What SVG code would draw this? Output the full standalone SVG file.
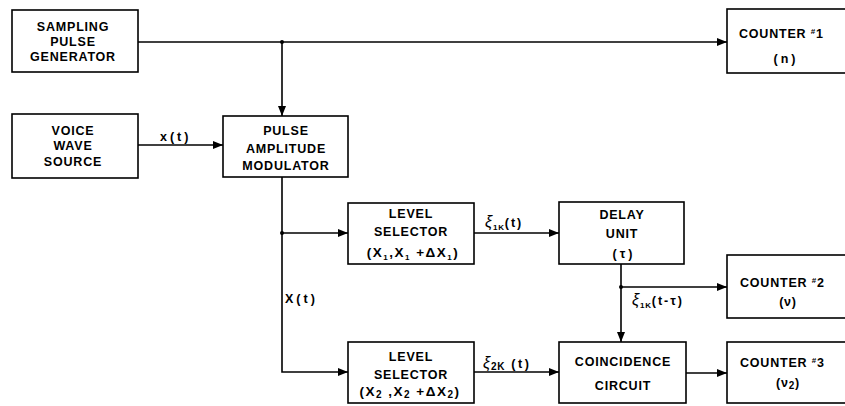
<svg xmlns="http://www.w3.org/2000/svg" width="845" height="406" viewBox="0 0 845 406">
<defs>
<marker id="arr" viewBox="0 0 10 8" refX="10" refY="4" markerWidth="10" markerHeight="8" markerUnits="userSpaceOnUse" orient="auto">
<path d="M0,0 L10,4 L0,8 z" fill="#000"/>
</marker>
<style>
.box{fill:#fff;stroke:#000;stroke-width:1.6}
.t{font-family:"Liberation Sans",Arial,sans-serif;font-weight:bold;font-size:12.5px;letter-spacing:0.8px;text-anchor:middle;fill:#000}
.l{font-family:"Liberation Sans",Arial,sans-serif;font-weight:bold;font-size:12.5px;letter-spacing:0.8px;fill:#000}
.w{letter-spacing:3px}
.r{font-size:13.5px;letter-spacing:1.5px}
.c{fill:none;stroke:#000;stroke-width:1.6}
.s{font-size:8px}
.s2{font-size:10px}
.x{font-size:16px;font-weight:normal;font-style:italic}
</style>
</defs>
<rect width="845" height="406" fill="#fff"/>

<g id="connectors">
<line class="c" x1="138" y1="42" x2="727" y2="42" marker-end="url(#arr)"/>
<line class="c" x1="282" y1="42" x2="282" y2="116" marker-end="url(#arr)"/>
<circle cx="282" cy="42" r="2"/>
<line class="c" x1="138" y1="145" x2="223" y2="145" marker-end="url(#arr)"/>
<polyline class="c" points="282,177 282,372 348,372" marker-end="url(#arr)"/>
<line class="c" x1="282" y1="233" x2="348" y2="233" marker-end="url(#arr)"/>
<circle cx="282" cy="233" r="2"/>
<line class="c" x1="474" y1="233" x2="559" y2="233" marker-end="url(#arr)"/>
<line class="c" x1="474" y1="372" x2="559" y2="372" marker-end="url(#arr)"/>
<line class="c" x1="621" y1="264" x2="621" y2="342" marker-end="url(#arr)"/>
<line class="c" x1="621" y1="287" x2="727" y2="287" marker-end="url(#arr)"/>
<circle cx="621" cy="287" r="2"/>
<line class="c" x1="686" y1="373" x2="727" y2="373" marker-end="url(#arr)"/>
<text class="l w" x="160" y="141">x(t)</text>
<text class="l w" x="285" y="303">X(t)</text>
<text class="l" x="485" y="227"><tspan class="x">ξ</tspan><tspan class="s" dy="3">1K</tspan><tspan dy="-3" style="letter-spacing:2px">(t)</tspan></text>
<text class="l" x="483" y="368"><tspan class="x">ξ</tspan><tspan class="s2" dy="2">2K</tspan><tspan dy="-2" style="letter-spacing:2.5px"> (t)</tspan></text>
<text class="l" x="632" y="305"><tspan class="x">ξ</tspan><tspan class="s" dy="3">1K</tspan><tspan dy="-3" style="letter-spacing:2px">(t-τ)</tspan></text>
</g>

<g id="sampling">
<rect class="box" x="12" y="10" width="126" height="62"/>
<text class="t" x="73" y="31">SAMPLING</text>
<text class="t" x="73" y="46">PULSE</text>
<text class="t" x="73" y="61">GENERATOR</text>
</g>

<g id="counter1">
<rect class="box" x="727" y="9" width="125" height="64"/>
<text class="l" x="739" y="38">COUNTER <tspan class="s" dy="-4">#</tspan><tspan dy="4">1</tspan></text>
<text class="t w" x="786" y="63">(n)</text>
</g>

<g id="voice">
<rect class="box" x="12" y="114" width="126" height="64"/>
<text class="t" x="73" y="135">VOICE</text>
<text class="t" x="73" y="150">WAVE</text>
<text class="t" x="73" y="166">SOURCE</text>
</g>

<g id="pam">
<rect class="box" x="223" y="116" width="125" height="61"/>
<text class="t" x="286" y="135">PULSE</text>
<text class="t" x="286" y="153">AMPLITUDE</text>
<text class="t" x="286" y="170">MODULATOR</text>
</g>

<g id="level1">
<rect class="box" x="348" y="203" width="126" height="61"/>
<text class="t" x="411" y="218">LEVEL</text>
<text class="t" x="411" y="236">SELECTOR</text>
<text class="t r" x="413" y="257">(X<tspan class="s" dy="3">1</tspan><tspan dy="-3">,X</tspan><tspan class="s" dy="3">1</tspan><tspan dy="-3"> +ΔX</tspan><tspan class="s" dy="3">1</tspan><tspan dy="-3">)</tspan></text>
</g>

<g id="level2">
<rect class="box" x="348" y="342" width="126" height="61"/>
<text class="t" x="411" y="361">LEVEL</text>
<text class="t" x="411" y="379">SELECTOR</text>
<text class="t r" x="410" y="396">(X<tspan class="s2" dy="2">2</tspan><tspan dy="-2"> ,X</tspan><tspan class="s2" dy="2">2</tspan><tspan dy="-2"> +ΔX</tspan><tspan class="s2" dy="2">2</tspan><tspan dy="-2">)</tspan></text>
</g>

<g id="delay">
<rect class="box" x="559" y="202" width="125" height="62"/>
<text class="t" x="622" y="219">DELAY</text>
<text class="t" x="622" y="238">UNIT</text>
<text class="t w" x="624" y="258">(τ)</text>
</g>

<g id="counter2">
<rect class="box" x="727" y="255" width="125" height="63"/>
<text class="l" x="740" y="287">COUNTER <tspan class="s" dy="-4">#</tspan><tspan dy="4">2</tspan></text>
<text class="t" x="788" y="306">(ν)</text>
</g>

<g id="coincidence">
<rect class="box" x="559" y="342" width="127" height="61"/>
<text class="t" x="623" y="366">COINCIDENCE</text>
<text class="t" x="623" y="390">CIRCUIT</text>
</g>

<g id="counter3">
<rect class="box" x="727" y="342" width="125" height="61"/>
<text class="l" x="740" y="367">COUNTER <tspan class="s" dy="-4">#</tspan><tspan dy="4">3</tspan></text>
<text class="t" x="788" y="387">(ν<tspan class="s2" dy="2">2</tspan><tspan dy="-2">)</tspan></text>
</g>
</svg>
